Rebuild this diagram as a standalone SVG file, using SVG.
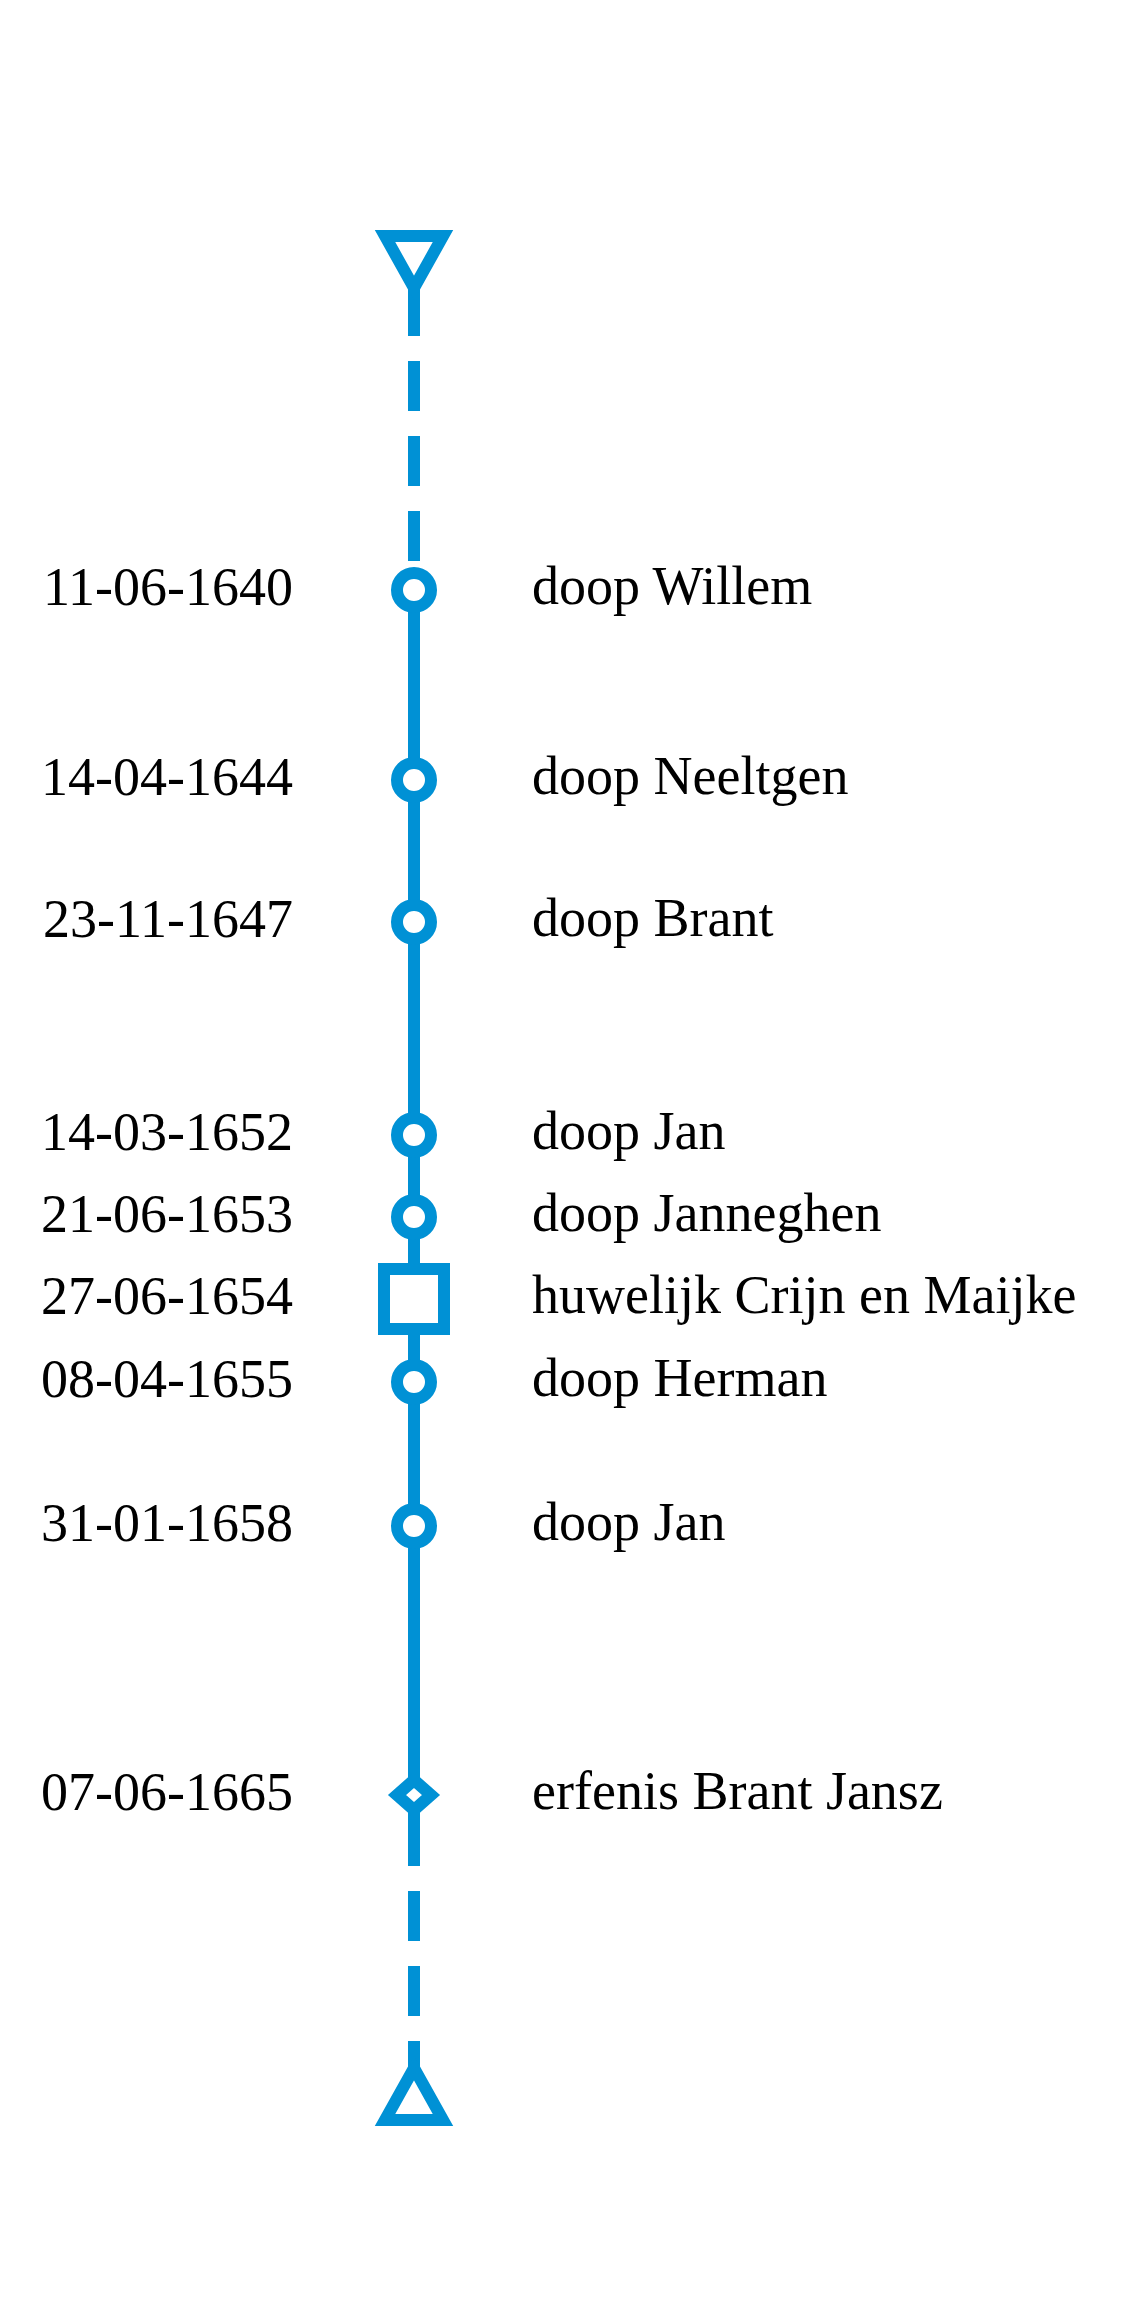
<svg xmlns="http://www.w3.org/2000/svg" width="1123" height="2304" viewBox="0 0 1123 2304">
<style>
.ln{stroke:#0091d5;stroke-width:12;fill:none}
.dash{stroke-dasharray:50 25}
.mk{stroke:#0091d5;stroke-width:12;fill:#fff;stroke-miterlimit:10}
.d{font-family:"Liberation Serif","Times New Roman",serif;font-size:54px;fill:#000;text-anchor:end}
.l{font-family:"Liberation Serif","Times New Roman",serif;font-size:54px;fill:#000}
</style>
<rect width="1123" height="2304" fill="#fff"/>
<g id="connectors">
<line class="ln dash" x1="414" y1="286" x2="414" y2="590"/>
<line class="ln" x1="414" y1="590" x2="414" y2="1816"/>
<line class="ln dash" x1="414" y1="1816" x2="414" y2="2068"/>
</g>
<g id="start"><path class="mk" d="M385 236 L443 236 L414 288 Z"/></g>
<g id="end"><path class="mk" d="M385 2120 L443 2120 L414 2068 Z"/></g>
<g id="e1640"><circle class="mk" cx="414" cy="590" r="17"/><text class="d" x="293" y="605">11-06-1640</text><text class="l" x="532" y="604">doop Willem</text></g>
<g id="e1644"><circle class="mk" cx="414" cy="780" r="17"/><text class="d" x="293" y="795">14-04-1644</text><text class="l" x="532" y="794">doop Neeltgen</text></g>
<g id="e1647"><circle class="mk" cx="414" cy="922" r="17"/><text class="d" x="293" y="937">23-11-1647</text><text class="l" x="532" y="936">doop Brant</text></g>
<g id="e1652"><circle class="mk" cx="414" cy="1135" r="17"/><text class="d" x="293" y="1150">14-03-1652</text><text class="l" x="532" y="1149">doop Jan</text></g>
<g id="e1653"><circle class="mk" cx="414" cy="1217" r="17"/><text class="d" x="293" y="1232">21-06-1653</text><text class="l" x="532" y="1231">doop Janneghen</text></g>
<g id="e1654"><rect class="mk" x="384" y="1269" width="60" height="60"/><text class="d" x="293" y="1314">27-06-1654</text><text class="l" x="532" y="1313">huwelijk Crijn en Maijke</text></g>
<g id="e1655"><circle class="mk" cx="414" cy="1382" r="17"/><text class="d" x="293" y="1397">08-04-1655</text><text class="l" x="532" y="1396">doop Herman</text></g>
<g id="e1658"><circle class="mk" cx="414" cy="1526" r="17"/><text class="d" x="293" y="1541">31-01-1658</text><text class="l" x="532" y="1540">doop Jan</text></g>
<g id="e1665"><path class="mk" d="M414 1780 L431 1795 L414 1810 L397 1795 Z"/><text class="d" x="293" y="1810">07-06-1665</text><text class="l" x="532" y="1809">erfenis Brant Jansz</text></g>
</svg>
